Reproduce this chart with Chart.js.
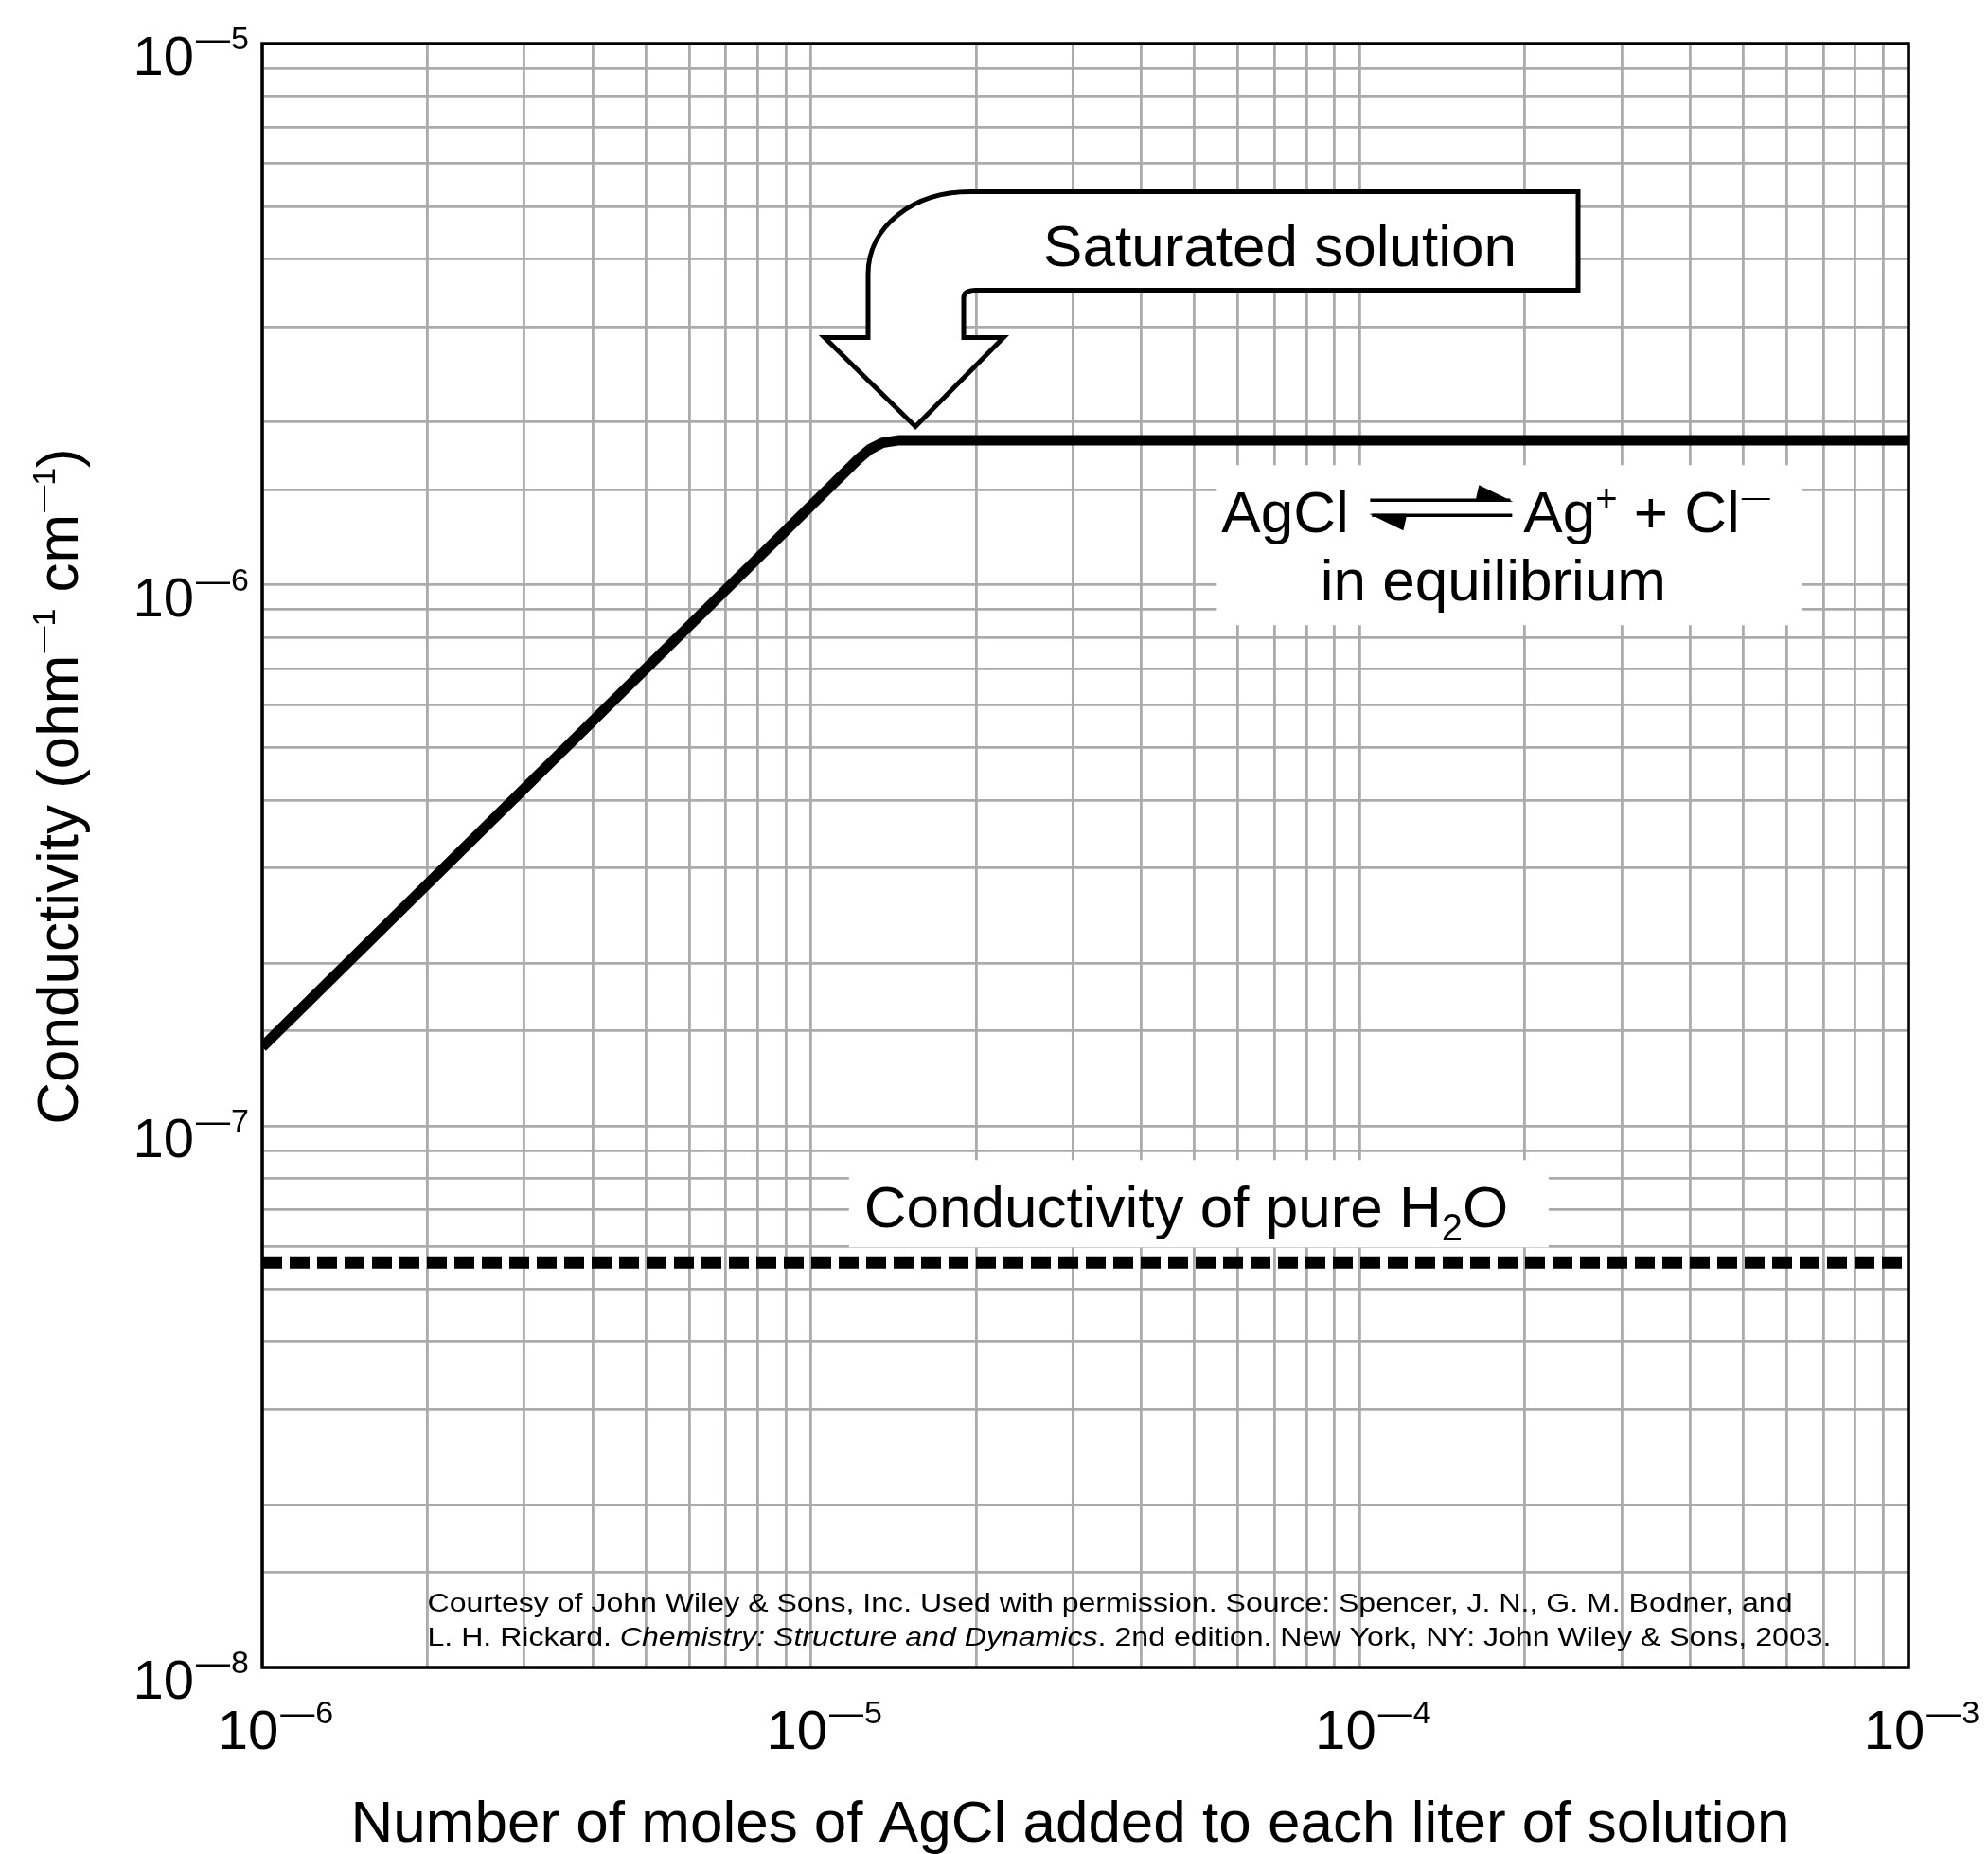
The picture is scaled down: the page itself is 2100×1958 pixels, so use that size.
<!DOCTYPE html>
<html>
<head>
<meta charset="utf-8">
<script src="https://cdn.jsdelivr.net/npm/chart.js@4.4.0/dist/chart.umd.min.js"></script>
<style>
  html, body { margin: 0; padding: 0; background: #fff; }
</style>
</head>
<body>
<canvas id="chart" width="2100" height="1958"></canvas>
<script>
// moles of AgCl added per litre (x) against conductivity in ohm^-1 cm^-1 (y)
const curveX = [1e-6, 1.22e-5, 1.28e-5, 1.35e-5, 1.45e-5, 1e-3];
const curveY = [1.4e-7, 1.708e-6, 1.78e-6, 1.83e-6, 1.85e-6, 1.85e-6];

// conductivity of pure water
const waterX = [1e-6, 1e-3];
const waterY = [5.6e-8, 5.6e-8];

// decades on each axis and the grid steps inside a decade
const xDecades = [-6, -5, -4, -3];
const yDecades = [-8, -7, -6, -5];
const xSteps = [1, 2, 3, 4, 5, 6, 7, 8, 9];
const ySteps = [1, 1.5, 2, 3, 4, 5, 6, 7, 8, 9];

const xTitle = 'Number of moles of AgCl added to each liter of solution';
const credit1 = 'Courtesy of John Wiley & Sons, Inc. Used with permission. Source: Spencer, J. N., G. M. Bodner, and';
const credit2 = ['L. H. Rickard. ', 'Chemistry: Structure and Dynamics', '. 2nd edition. New York, NY: John Wiley & Sons, 2003.'];

const FONT = '"Liberation Sans", Arial, Helvetica, sans-serif';
const DASH = '\u2014';   // the figure uses a long minus in superscripts
const gridColor = '#ababab';

function gridValues(decades, steps) {
    let vals = [];
    for (let i = 0; i < decades.length - 1; i++) {
        steps.forEach(function (s) { vals.push(s * Math.pow(10, decades[i])); });
    }
    vals.push(Math.pow(10, decades[decades.length - 1]));
    return vals;
}

function setFont(ctx, size, italic) {
    ctx.font = (italic ? 'italic ' : '') + size + 'px ' + FONT;
}

// draws a row of text pieces (for super/subscripts), returns its width
function drawRuns(ctx, parts, x, y, align) {
    let widths = parts.map(function (p) {
        setFont(ctx, p.size, p.italic);
        return ctx.measureText(p.text).width + (p.gap || 0);
    });
    let total = widths.reduce(function (a, b) { return a + b; }, 0);
    let cx = align === 'center' ? x - total / 2 : (align === 'right' ? x - total : x);
    parts.forEach(function (p, i) {
        setFont(ctx, p.size, p.italic);
        ctx.fillText(p.text, cx, y - (p.rise || 0));
        cx += widths[i];
    });
    return total;
}

function runsWidth(ctx, parts) {
    return parts.reduce(function (acc, p) {
        setFont(ctx, p.size, p.italic);
        return acc + ctx.measureText(p.text).width;
    }, 0);
}

function power(exp) {
    return [
        { text: '10', size: 58, gap: 2 },
        { text: DASH, size: 36, rise: 26, gap: 1 },
        { text: String(Math.abs(exp)), size: 34, rise: 27 }
    ];
}

const notes = {
    id: 'notes',
    beforeDatasetsDraw(chart) {
        const ctx = chart.ctx;
        const xs = chart.scales.x, ys = chart.scales.y;
        ctx.save();
        ctx.fillStyle = '#fff';
        // box behind the equilibrium label
        let ex = xs.getPixelForValue(5.6e-5), ey = ys.getPixelForValue(1.25e-6);
        ctx.fillRect(ex - 5, ey - 71, 618, 169);
        // box behind the pure water label
        let wx = xs.getPixelForValue(1.25e-5), wy = ys.getPixelForValue(6.5e-8);
        ctx.fillRect(wx - 16, wy - 71, 739, 92);
        ctx.restore();
    },
    afterDatasetsDraw(chart) {
        const ctx = chart.ctx;
        const area = chart.chartArea;
        const xs = chart.scales.x, ys = chart.scales.y;
        ctx.save();
        ctx.fillStyle = '#000';
        ctx.strokeStyle = '#000';
        ctx.textBaseline = 'alphabetic';
        ctx.textAlign = 'left';

        // "Saturated solution" bent arrow, tip just above the knee
        let tx = xs.getPixelForValue(1.55e-5), ty = ys.getPixelForValue(1.96e-6);
        ctx.beginPath();
        ctx.moveTo(tx, ty);
        ctx.lineTo(tx + 93, ty - 94);
        ctx.lineTo(tx + 51, ty - 94);
        ctx.lineTo(tx + 51, ty - 136);
        ctx.quadraticCurveTo(tx + 51, ty - 144, tx + 64, ty - 144);
        ctx.lineTo(tx + 700, ty - 144);
        ctx.lineTo(tx + 700, ty - 248);
        ctx.lineTo(tx + 58, ty - 248);
        ctx.bezierCurveTo(tx - 2, ty - 248, tx - 50, ty - 212, tx - 50, ty - 161);
        ctx.lineTo(tx - 50, ty - 94);
        ctx.lineTo(tx - 96, ty - 94);
        ctx.closePath();
        ctx.fillStyle = '#fff';
        ctx.fill();
        ctx.lineWidth = 5;
        ctx.lineJoin = 'miter';
        ctx.stroke();
        ctx.fillStyle = '#000';
        drawRuns(ctx, [{ text: 'Saturated solution', size: 62 }], tx + 385, ty - 170, 'center');

        // AgCl <=> Ag+ + Cl-  in equilibrium
        let ex = xs.getPixelForValue(5.6e-5), ey = ys.getPixelForValue(1.25e-6);
        drawRuns(ctx, [{ text: 'AgCl', size: 62 }], ex, ey, 'left');
        ctx.lineWidth = 3.5;
        ctx.beginPath();
        ctx.moveTo(ex + 157, ey - 34);
        ctx.lineTo(ex + 305, ey - 34);
        ctx.moveTo(ex + 159, ey - 18);
        ctx.lineTo(ex + 307, ey - 18);
        ctx.stroke();
        ctx.beginPath();
        ctx.moveTo(ex + 272, ey - 50);
        ctx.lineTo(ex + 308, ey - 32.5);
        ctx.lineTo(ex + 268, ey - 32.5);
        ctx.closePath();
        ctx.fill();
        ctx.beginPath();
        ctx.moveTo(ex + 192, ey - 2);
        ctx.lineTo(ex + 156, ey - 19.5);
        ctx.lineTo(ex + 196, ey - 19.5);
        ctx.closePath();
        ctx.fill();
        drawRuns(ctx, [
            { text: 'Ag', size: 62 }, { text: '+', size: 40, rise: 22 },
            { text: ' + Cl', size: 62, gap: 2 }, { text: DASH, size: 30, rise: 27 }
        ], ex + 319, ey, 'left');
        drawRuns(ctx, [{ text: 'in equilibrium', size: 62 }], ex + 287, ey + 72, 'center');

        // Conductivity of pure H2O
        let wx = xs.getPixelForValue(1.25e-5), wy = ys.getPixelForValue(6.5e-8);
        drawRuns(ctx, [
            { text: 'Conductivity of pure H', size: 62 }, { text: '2', size: 40, rise: -14 },
            { text: 'O', size: 62 }
        ], wx, wy, 'left');

        // credit line
        let cx = xs.getPixelForValue(2e-6), cy = ys.getPixelForValue(1.27e-8);
        let line1 = [{ text: credit1, size: 28 }];
        let line2 = [{ text: credit2[0], size: 28 }, { text: credit2[1], size: 28, italic: true }, { text: credit2[2], size: 28 }];
        ctx.save();
        ctx.translate(cx, cy);
        ctx.scale(1442 / runsWidth(ctx, line1), 1);
        drawRuns(ctx, line1, 0, 0, 'left');
        ctx.restore();
        ctx.save();
        ctx.translate(cx, cy + 36);
        ctx.scale(1483 / runsWidth(ctx, line2), 1);
        drawRuns(ctx, line2, 0, 0, 'left');
        ctx.restore();

        // frame
        ctx.lineWidth = 3.5;
        ctx.lineJoin = 'miter';
        ctx.strokeRect(area.left, area.top, area.right - area.left, area.bottom - area.top);

        // tick labels
        yDecades.forEach(function (d) {
            let y = ys.getPixelForValue(Math.pow(10, d));
            drawRuns(ctx, power(d), area.left - 14, y + 33, 'right');
        });
        xDecades.forEach(function (d) {
            let x = xs.getPixelForValue(Math.pow(10, d));
            drawRuns(ctx, power(d), x + 14, area.bottom + 86, 'center');
        });

        // axis titles
        drawRuns(ctx, [{ text: xTitle, size: 62 }], (area.left + area.right) / 2 - 16, area.bottom + 184, 'center');
        ctx.save();
        ctx.translate(area.left - 195, (area.top + area.bottom) / 2 - 73);
        ctx.rotate(-Math.PI / 2);
        drawRuns(ctx, [
            { text: 'Conductivity (ohm', size: 62, gap: 2 },
            { text: DASH, size: 28, rise: 28 }, { text: '1', size: 34, rise: 24 },
            { text: ' cm', size: 62, gap: 2 },
            { text: DASH, size: 28, rise: 28 }, { text: '1', size: 34, rise: 24 },
            { text: ')', size: 62 }
        ], 0, 0, 'center');
        ctx.restore();

        ctx.restore();
    }
};

new Chart(document.getElementById('chart'), {
    type: 'scatter',
    data: {
        datasets: [{
            label: 'Conductivity',
            data: curveX.map(function (x, i) { return { x: x, y: curveY[i] }; }),
            showLine: true,
            borderColor: '#000',
            borderWidth: 11,
            borderJoinStyle: 'round',
            pointRadius: 0,
            tension: 0
        }, {
            label: 'Pure water',
            data: waterX.map(function (x, i) { return { x: x, y: waterY[i] }; }),
            showLine: true,
            borderColor: '#000',
            borderWidth: 13,
            borderDash: [21, 8],
            pointRadius: 0
        }]
    },
    options: {
        responsive: false,
        animation: false,
        devicePixelRatio: 1,
        layout: { padding: { left: 277, top: 46, right: 84, bottom: 197 } },
        plugins: { legend: { display: false }, tooltip: { enabled: false } },
        scales: {
            x: {
                type: 'logarithmic',
                min: 1e-6,
                max: 1e-3,
                afterBuildTicks: function (scale) {
                    scale.ticks = gridValues(xDecades, xSteps).map(function (v) { return { value: v }; });
                },
                ticks: { display: false },
                grid: { color: gridColor, lineWidth: 2.8, drawTicks: false },
                border: { display: false }
            },
            y: {
                type: 'logarithmic',
                min: 1e-8,
                max: 1e-5,
                afterBuildTicks: function (scale) {
                    scale.ticks = gridValues(yDecades, ySteps).map(function (v) { return { value: v }; });
                },
                ticks: { display: false },
                grid: { color: gridColor, lineWidth: 2.8, drawTicks: false },
                border: { display: false }
            }
        }
    },
    plugins: [notes]
});
</script>
</body>
</html>
